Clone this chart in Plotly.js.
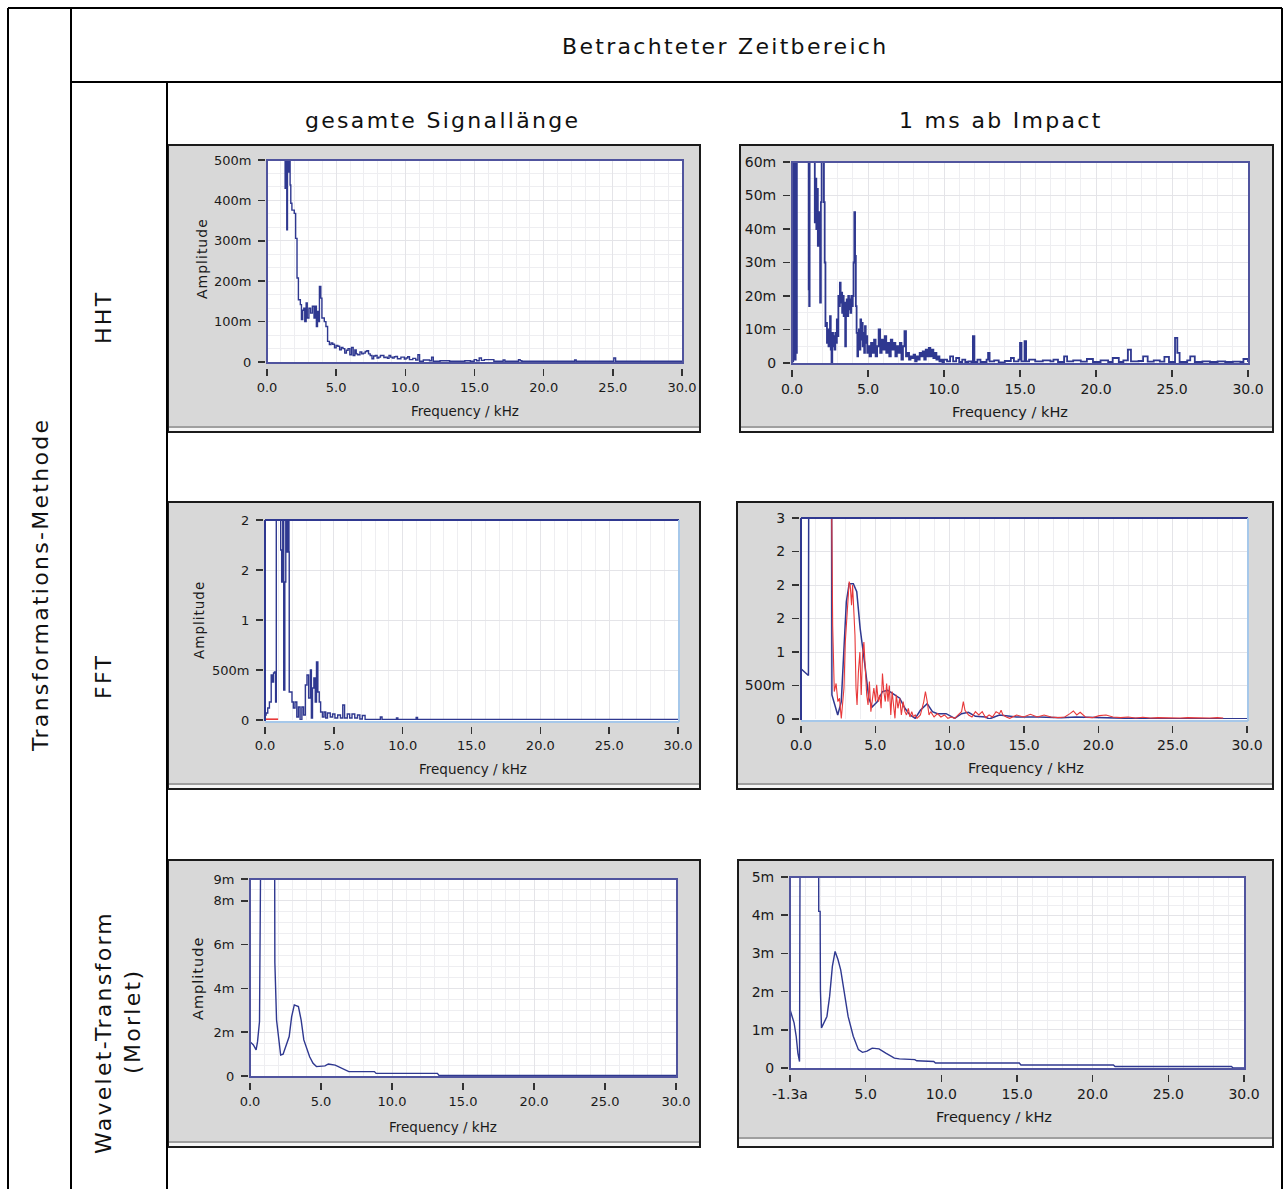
<!DOCTYPE html>
<html><head><meta charset="utf-8">
<script src="https://cdn.plot.ly/plotly-3.0.1.min.js"></script>
<style>html,body{margin:0;padding:0;background:#fff}#chart{width:1285px;height:1189px}</style>
</head><body><div id="chart"></div>
<script>
// ---------- DATA (frequency in kHz) ----------
const freqTickVals = [0, 5, 10, 15, 20, 25, 30];
const freqTickText = ["0.0", "5.0", "10.0", "15.0", "20.0", "25.0", "30.0"];
const freqTickTextWavImp = ["-1.3a", "5.0", "10.0", "15.0", "20.0", "25.0", "30.0"];

const hhtFullYVals = [0, 0.1, 0.2, 0.3, 0.4, 0.5];
const hhtFullYText = ["0", "100m", "200m", "300m", "400m", "500m"];
const hhtImpYVals = [0, 10, 20, 30, 40, 50, 60];
const hhtImpYText = ["0", "10m", "20m", "30m", "40m", "50m", "60m"];
const fftFullYVals = [0, 0.5, 1, 1.5, 2];
const fftFullYText = ["0", "500m", "1", "2", "2"];
const fftImpYVals = [0, 0.5, 1, 1.5, 2, 2.5, 3];
const fftImpYText = ["0", "500m", "1", "2", "2", "2", "3"];
const wavFullYVals = [0, 2, 4, 6, 8, 9];
const wavFullYText = ["0", "2m", "4m", "6m", "8m", "9m"];
const wavImpYVals = [0, 1, 2, 3, 4, 5];
const wavImpYText = ["0", "1m", "2m", "3m", "4m", "5m"];

// HHT, gesamte Signallänge (amplitude)
const hhtFullFreq = [
 1.20, 1.31, 1.36, 1.43, 1.48, 1.58, 1.63, 1.67, 1.72, 1.80,
 1.97, 2.07, 2.17, 2.27, 2.41, 2.49, 2.58, 2.66, 2.73, 2.83,
 2.91, 3.03, 3.15, 3.28, 3.40, 3.47, 3.57, 3.65, 3.72, 3.79,
 3.89, 3.97, 4.04, 4.14, 4.26, 4.38, 4.51, 4.63, 4.75, 4.88,
 5.00, 5.12, 5.25, 5.37, 5.49, 5.62, 5.74, 5.86, 5.99, 6.11,
 6.23, 6.35, 6.45, 6.55, 6.72, 6.85, 6.97, 7.10, 7.22, 7.34,
 7.46, 7.59, 7.71, 7.83, 7.96, 8.08, 8.20, 8.33, 8.45, 8.57,
 8.70, 8.82, 8.94, 9.06, 9.19, 9.31, 9.43, 9.56, 9.68, 9.80,
 9.93, 10.05, 10.17, 10.30, 10.54, 10.75, 10.91, 11.03, 11.30, 11.53,
 11.75, 11.90, 12.02, 12.51, 13.20, 13.74, 14.30, 14.70, 14.98, 15.15,
 15.34, 15.50, 15.71, 16.40, 17.07, 17.20, 18.18, 18.30, 18.42, 20.00,
 22.24, 22.35, 23.50, 25.07, 25.20, 27.00, 30.00];
const hhtFullAmp = [
 0.90, 0.43, 0.90, 0.327, 0.90, 0.47, 0.90, 0.438, 0.393, 0.376,
 0.368, 0.306, 0.208, 0.154, 0.142, 0.105, 0.128, 0.133, 0.100, 0.146,
 0.109, 0.133, 0.121, 0.138, 0.109, 0.138, 0.088, 0.125, 0.100, 0.187,
 0.158, 0.109, 0.109, 0.100, 0.088, 0.051, 0.043, 0.047, 0.044, 0.035,
 0.041, 0.039, 0.030, 0.036, 0.033, 0.022, 0.029, 0.033, 0.018, 0.036,
 0.016, 0.030, 0.020, 0.018, 0.025, 0.020, 0.022, 0.026, 0.028, 0.020,
 0.016, 0.008, 0.015, 0.016, 0.010, 0.012, 0.016, 0.016, 0.011, 0.012,
 0.009, 0.016, 0.012, 0.010, 0.013, 0.014, 0.008, 0.008, 0.012, 0.012,
 0.007, 0.010, 0.013, 0.006, 0.009, 0.005, 0.018, 0.002, 0.005, 0.005,
 0.003, 0.012, 0.002, 0.003, 0.002, 0.002, 0.003, 0.002, 0.006, 0.003,
 0.010, 0.004, 0.006, 0.002, 0.005, 0.002, 0.006, 0.003, 0.002, 0.002,
 0.005, 0.002, 0.002, 0.010, 0.002, 0.002, 0.002];

// HHT, 1 ms ab Impact (amplitude in milli-units)
const hhtImpFreq = [
 0.00, 0.04, 0.08, 0.12, 0.16, 0.20, 0.24, 0.28, 0.32, 1.08,
 1.10, 1.13, 1.16, 1.40, 1.50, 1.55, 1.60, 1.65, 1.70, 1.75,
 1.80, 1.85, 1.90, 1.95, 2.05, 2.10, 2.15, 2.20, 2.25, 2.30,
 2.35, 2.40, 2.45, 2.50, 2.55, 2.60, 2.65, 2.70, 2.75, 2.80,
 2.85, 2.90, 2.95, 3.00, 3.05, 3.10, 3.15, 3.20, 3.25, 3.30,
 3.35, 3.40, 3.45, 3.50, 3.55, 3.60, 3.65, 3.70, 3.75, 3.80,
 3.85, 3.90, 3.95, 4.00, 4.05, 4.10, 4.15, 4.20, 4.25, 4.30,
 4.35, 4.40, 4.45, 4.50, 4.55, 4.60, 4.65, 4.70, 4.75, 4.80,
 4.85, 4.90, 4.95, 5.00, 5.10, 5.20, 5.30, 5.40, 5.50, 5.60,
 5.70, 5.80, 5.90, 6.00, 6.10, 6.20, 6.30, 6.40, 6.50, 6.60,
 6.70, 6.80, 6.90, 7.00, 7.10, 7.20, 7.30, 7.40, 7.50, 7.60,
 7.70, 7.80, 7.90, 8.00, 8.10, 8.20, 8.30, 8.40, 8.50, 8.60,
 8.70, 8.80, 8.90, 9.00, 9.10, 9.20, 9.30, 9.40, 9.50, 9.60,
 9.70, 9.80, 9.90, 10.0, 10.2, 10.4, 10.6, 10.8, 11.0, 11.2,
 11.4, 11.6, 11.8, 11.9, 12.0, 12.2, 12.4, 12.8, 12.9, 13.0,
 13.3, 13.6, 14.0, 14.4, 14.6, 14.9, 15.0, 15.1, 15.3, 15.4,
 15.6, 16.0, 16.5, 17.0, 17.2, 17.5, 17.9, 18.1, 18.5, 19.0,
 19.4, 19.8, 20.3, 20.8, 21.1, 21.5, 21.8, 22.1, 22.3, 22.8,
 23.1, 23.4, 23.8, 24.2, 24.5, 24.8, 25.2, 25.35, 25.5, 26.0,
 26.2, 26.5, 27.0, 27.5, 28.0, 28.5, 29.0, 29.5, 29.7, 30.0];
const hhtImpAmp = [
 80, 0.5, 80, 6, 80, 1, 80, 3, 80, 80,
 22, 17, 80, 80, 42, 55, 40, 52, 35, 36,
 45, 18, 48, 80, 80, 48, 30, 11, 12, 6,
 10, 5, 8, 14, 4, 0, 9, 5, 8, 4,
 9, 6, 13, 8, 20, 17, 24, 18, 21, 15,
 20, 14, 18, 5, 16, 19, 14, 20, 16, 19,
 15, 20, 17, 20, 30, 45, 32, 17, 9, 2,
 6, 10, 4, 13, 7, 12, 5, 9, 3, 11,
 6, 8, 3, 5, 2, 6, 3, 7, 2, 5,
 10, 3, 7, 4, 8, 3, 6, 2, 7, 4,
 6, 2, 5, 3, 6, 1, 5, 9.5, 2, 3,
 1, 2, 1.5, 2.5, 0.5, 2, 1, 3, 2, 3.5,
 1, 4, 2, 4.5, 2, 4, 1.5, 3, 1, 2,
 0.5, 1, 0.3, 1, 0.5, 2, 0.5, 1.5, 0.3, 1,
 0.3, 0.5, 0.2, 8, 0.3, 1, 0.3, 1, 3, 0.5,
 0.8, 0.2, 0.6, 1.5, 0.5, 1, 6, 0.5, 6.5, 0.5,
 1, 0.5, 0.8, 0.5, 1, 0.3, 2, 0.5, 0.8, 0.4,
 1.2, 0.3, 0.8, 0.3, 1.5, 0.3, 0.8, 4, 0.5, 0.6,
 2, 0.4, 0.8, 0.4, 1.8, 0.3, 7.5, 3, 0.3, 0.8,
 2, 0.3, 0.5, 0.3, 0.5, 0.3, 0.4, 0.3, 1.2, 0.3];

// FFT, gesamte Signallänge
const fftFullFreq = [
 0.00, 0.08, 0.20, 0.32, 0.45, 0.52, 0.62, 0.69, 0.77, 0.82,
 1.07, 1.14, 1.21, 1.29, 1.36, 1.44, 1.51, 1.61, 1.69, 1.74,
 1.76, 1.86, 1.96, 2.06, 2.18, 2.31, 2.43, 2.55, 2.68, 2.80,
 2.93, 3.05, 3.17, 3.30, 3.37, 3.45, 3.55, 3.65, 3.74, 3.84,
 3.94, 4.04, 4.17, 4.29, 4.41, 4.54, 4.74, 4.91, 5.08, 5.28,
 5.48, 5.65, 5.78, 5.98, 6.15, 6.32, 6.52, 6.72, 6.89, 7.07,
 7.27, 8.38, 8.50, 9.55, 9.65, 10.98, 11.08, 30.0];
const fftFullAmp = [
 0.05, 0.07, 0.12, 0.18, 0.45, 0.38, 0.47, 0.48, 0.18, 2.5,
 2.5, 1.70, 1.38, 2.5, 0.30, 1.38, 2.5, 1.68, 2.5, 1.68,
 0.28, 0.28, 0.18, 0.12, 0.18, 0.03, 0.13, 0.00, 0.13, 0.05,
 0.35, 0.45, 0.22, 0.50, 0.02, 0.32, 0.42, 0.18, 0.58, 0.28,
 0.18, 0.08, 0.03, 0.08, 0.02, 0.07, 0.03, 0.06, 0.02, 0.05,
 0.02, 0.15, 0.02, 0.06, 0.02, 0.06, 0.02, 0.05, 0.01, 0.045,
 0.005, 0.03, 0.005, 0.02, 0.005, 0.025, 0.005, 0.005];
const fftFullRedFreq = [0.05, 0.35, 0.65, 0.95];
const fftFullRedAmp = [0.008, 0.008, 0.008, 0.008];

// FFT, 1 ms ab Impact
const fftImpFreq = [
 0.00, 0.50, 0.52, 2.06, 2.08, 2.47, 2.71, 3.05, 3.24, 3.52,
 3.75, 3.98, 4.33, 4.56, 4.79, 5.14, 5.48, 5.83, 6.18, 6.64,
 6.99, 7.33, 7.68, 8.03, 8.49, 8.84, 9.18, 9.76, 10.34, 10.80,
 11.26, 11.73, 12.42, 12.65, 13.35, 13.93, 14.50, 16.00, 17.50, 18.50,
 20.00, 22.00, 25.00, 30.00];
const fftImpAmp = [
 0.75, 0.65, 3.5, 3.5, 0.36, 0.06, 0.26, 1.75, 2.02, 2.02,
 1.90, 1.35, 0.75, 0.31, 0.18, 0.26, 0.41, 0.43, 0.38, 0.31,
 0.16, 0.06, 0.01, 0.13, 0.23, 0.11, 0.08, 0.08, 0.01, 0.08,
 0.10, 0.04, 0.03, 0.00, 0.06, 0.05, 0.03, 0.03, 0.02, 0.03,
 0.02, 0.01, 0.005, 0.005];
const fftImpRedFreq = [
 0.00, 0.03, 2.05, 2.13, 2.24, 2.36, 2.48, 2.59, 2.71, 2.89,
 2.98, 3.12, 3.24, 3.31, 3.40, 3.47, 3.54, 3.63, 3.70, 3.77,
 3.86, 3.96, 4.05, 4.14, 4.23, 4.33, 4.42, 4.51, 4.60, 4.70,
 4.79, 4.90, 5.02, 5.09, 5.20, 5.30, 5.39, 5.48, 5.57, 5.67,
 5.76, 5.85, 5.94, 6.04, 6.13, 6.22, 6.32, 6.41, 6.52, 6.64,
 6.75, 6.87, 6.99, 7.10, 7.22, 7.33, 7.45, 7.56, 7.68, 7.80,
 8.03, 8.26, 8.37, 8.49, 8.61, 8.72, 8.95, 9.18, 9.41, 9.65,
 9.88, 10.11, 10.34, 10.57, 10.80, 10.92, 11.03, 11.27, 11.50, 11.73,
 11.96, 12.19, 12.42, 12.65, 12.88, 13.12, 13.35, 13.46, 13.58, 13.81,
 14.04, 14.50, 14.97, 15.43, 15.89, 16.35, 16.82, 17.28, 17.74, 18.09,
 18.32, 18.55, 18.78, 19.13, 19.59, 20.06, 20.52, 20.98, 21.50, 22.00,
 22.50, 23.00, 23.50, 24.00, 24.50, 25.00, 25.50, 26.00, 26.50, 27.00,
 27.50, 28.00, 28.40];
const fftImpRedAmp = [
 2.20, 3.5, 3.5, 1.40, 0.41, 0.53, 0.26, 0.31, 0.01, 0.46,
 1.15, 1.75, 2.05, 2.00, 1.70, 2.00, 1.75, 1.25, 0.46, 0.21,
 0.70, 1.00, 0.36, 0.95, 1.15, 0.75, 0.36, 0.21, 0.56, 0.11,
 0.26, 0.46, 0.26, 0.51, 0.26, 0.36, 0.16, 0.68, 0.41, 0.26,
 0.53, 0.26, 0.50, 0.06, 0.41, 0.16, 0.01, 0.36, 0.16, 0.31,
 0.06, 0.26, 0.11, 0.06, 0.16, 0.03, 0.11, 0.03, 0.06, 0.01,
 0.06, 0.26, 0.41, 0.26, 0.06, 0.11, 0.03, 0.08, 0.03, 0.06,
 0.01, 0.03, 0.01, 0.06, 0.11, 0.26, 0.13, 0.06, 0.03, 0.11,
 0.06, 0.11, 0.02, 0.06, 0.03, 0.11, 0.08, 0.13, 0.06, 0.03,
 0.01, 0.06, 0.03, 0.07, 0.03, 0.06, 0.03, 0.02, 0.03, 0.08,
 0.12, 0.06, 0.10, 0.03, 0.02, 0.05, 0.06, 0.03, 0.02, 0.03,
 0.015, 0.025, 0.015, 0.02, 0.015, 0.02, 0.015, 0.02, 0.015, 0.02,
 0.015, 0.02, 0.015];

// Wavelet (Morlet), gesamte Signallänge (milli-units)
const wavFullFreq = [
 0.00, 0.24, 0.43, 0.53, 0.67, 0.77, 1.73, 1.75, 1.87, 1.99,
 2.16, 2.33, 2.52, 2.76, 2.93, 3.12, 3.41, 3.60, 3.79, 3.98,
 4.20, 4.44, 4.68, 5.28, 5.52, 6.00, 6.48, 6.96, 8.76, 8.88,
 13.20, 13.32, 30.00];
const wavFullAmp = [
 1.57, 1.42, 1.19, 1.57, 2.49, 12, 12, 5.2, 2.56, 1.95,
 0.96, 1.00, 1.34, 1.80, 2.70, 3.25, 3.17, 2.56, 1.65, 1.27,
 0.88, 0.58, 0.43, 0.46, 0.55, 0.50, 0.35, 0.20, 0.20, 0.12,
 0.12, 0.02, 0.02];

// Wavelet (Morlet), 1 ms ab Impact (milli-units)
const wavImpFreq = [
 0.00, 0.11, 0.27, 0.41, 0.52, 0.63, 0.68, 1.88, 1.90, 1.99,
 2.01, 2.08, 2.26, 2.44, 2.62, 2.80, 2.98, 3.17, 3.35, 3.57,
 3.84, 4.18, 4.52, 4.79, 5.09, 5.43, 5.88, 6.33, 6.90, 7.23,
 8.25, 8.37, 9.50, 9.61, 15.15, 15.26, 21.37, 21.48, 29.17, 29.28,
 30.00];
const wavImpAmp = [
 1.53, 1.40, 1.18, 0.83, 0.39, 0.17, 8, 8, 4.10, 4.10,
 2.05, 1.05, 1.18, 1.35, 1.88, 2.66, 3.05, 2.84, 2.57, 1.96,
 1.35, 0.83, 0.48, 0.41, 0.44, 0.52, 0.50, 0.39, 0.26, 0.24,
 0.22, 0.19, 0.17, 0.13, 0.13, 0.08, 0.08, 0.04, 0.04, 0.00,
 0.00];

// ---------- LAYOUT ----------
const W = 1285, H = 1189;
const fx = p => p / W, fy = p => 1 - p / H;
const FONT = 'DejaVu Sans';
const NAVY = '#2f3890', FRAME = '#50549e', LIGHT = '#a6c8ea', RED = '#e8393a';
const GRID = '#e4e4e8', GRID2 = '#eeeef1';

function steps(max, step) { const a = []; for (let v = 0; v <= max + 1e-9; v += step) a.push(+v.toFixed(6)); return a; }

const panels = [
  {box: [168, 145, 700, 432], plot: [267, 160, 682, 362], yr: [0, 0.5], yv: hhtFullYVals, yt: hhtFullYText, xt: freqTickText,
   ystep: 0.1 / 3, fs: 13, frame: 'full', amp: [202, 259, 14], ttl: [465, 411, 13.5],
   series: [{x: hhtFullFreq, y: hhtFullAmp, c: NAVY, w: 1.4, s: 'hv'}]},
  {box: [740, 145, 1273, 432], plot: [792, 162, 1248, 363], yr: [0, 60], yv: hhtImpYVals, yt: hhtImpYText, xt: freqTickText,
   ystep: 5, fs: 14, frame: 'full', amp: null, ttl: [1010, 412, 14.5],
   series: [{x: hhtImpFreq, y: hhtImpAmp, c: NAVY, w: 1.8, s: 'hv'}]},
  {box: [168, 502, 700, 789], plot: [265, 520, 678, 720], yr: [0, 2], yv: fftFullYVals, yt: fftFullYText, xt: freqTickText,
   ystep: 0.5, fs: 13, frame: 'split', amp: [199, 620, 13.5], ttl: [473, 769, 13.5],
   series: [{x: fftFullFreq, y: fftFullAmp, c: NAVY, w: 1.4, s: 'hv'}, {x: fftFullRedFreq, y: fftFullRedAmp, c: RED, w: 1.6, s: 'linear'}]},
  {box: [737, 502, 1273, 789], plot: [801, 518, 1247, 719], yr: [0, 3], yv: fftImpYVals, yt: fftImpYText, xt: freqTickText,
   ystep: 0.5, fs: 14, frame: 'split', amp: null, ttl: [1026, 768, 14.5],
   series: [{x: fftImpFreq, y: fftImpAmp, c: NAVY, w: 1.5, s: 'linear'}, {x: fftImpRedFreq, y: fftImpRedAmp, c: RED, w: 1.1, s: 'linear'}]},
  {box: [168, 860, 700, 1147], plot: [250, 879, 676, 1076], yr: [0, 9], yv: wavFullYVals, yt: wavFullYText, xt: freqTickText,
   ystep: 0.5, fs: 13, frame: 'full', amp: [198, 979, 14.5], ttl: [443, 1127, 13.5],
   series: [{x: wavFullFreq, y: wavFullAmp, c: NAVY, w: 1.4, s: 'linear'}]},
  {box: [738, 860, 1273, 1147], plot: [790, 877, 1244, 1068], yr: [0, 5], yv: wavImpYVals, yt: wavImpYText, xt: freqTickTextWavImp,
   ystep: 0.25, fs: 14, frame: 'full', amp: null, ttl: [994, 1117, 14.5], strip: 8,
   series: [{x: wavImpFreq, y: wavImpAmp, c: NAVY, w: 1.4, s: 'linear'}]}
];

const traces = [], shapes = [], annotations = [];
const layout = {width: W, height: H, margin: {l: 0, r: 0, t: 0, b: 0}, paper_bgcolor: '#ffffff', plot_bgcolor: '#ffffff',
  showlegend: false, font: {family: FONT, color: '#1a1a1a'}};

const line = (x0, y0, x1, y1, color, width, layer) => ({type: 'line', xref: 'paper', yref: 'paper',
  x0: fx(x0), y0: fy(y0), x1: fx(x1), y1: fy(y1), line: {color: color, width: width}, layer: layer || 'above'});

panels.forEach((p, i) => {
  const k = i + 1, xa = k === 1 ? 'x' : 'x' + k, ya = k === 1 ? 'y' : 'y' + k;
  const [L, T, R, B] = p.plot;
  const [bl, bt, br, bb] = p.box;
  // panel background
  shapes.push({type: 'rect', xref: 'paper', yref: 'paper', x0: fx(bl), x1: fx(br), y0: fy(bb), y1: fy(bt),
    fillcolor: '#d8d8d8', line: {color: '#1b1b1b', width: 2}, layer: 'below'});
  const st = p.strip || 4;
  shapes.push({type: 'rect', xref: 'paper', yref: 'paper', x0: fx(bl + 1), x1: fx(br - 1), y0: fy(bb - 1), y1: fy(bb - st),
    fillcolor: '#f6f6f6', line: {width: 0}, layer: 'below'});
  shapes.push(line(bl + 1, bb - st - 1, br - 1, bb - st - 1, '#8c8c8c', 1.5, 'below'));
  // white plotting area
  shapes.push({type: 'rect', xref: 'paper', yref: 'paper', x0: fx(L), x1: fx(R + 1), y0: fy(B + 1), y1: fy(T),
    fillcolor: '#ffffff', line: {width: 0}, layer: 'below'});

  layout['xaxis' + (k === 1 ? '' : k)] = {
    domain: [fx(L), fx(R)], range: [0, 30], anchor: 'free', position: fy(B + 6), fixedrange: true,
    tickmode: 'array', tickvals: freqTickVals, ticktext: p.xt, ticks: 'outside', ticklen: 7, tickwidth: 1.5, tickcolor: '#333',
    showline: false, zeroline: false, showgrid: true, gridcolor: GRID, gridwidth: 1,
    minor: {tickmode: 'array', tickvals: steps(30, 1), showgrid: true, gridcolor: GRID2, gridwidth: 1, ticks: ''},
    tickfont: {family: FONT, size: p.fs, color: '#1a1a1a'}
  };
  layout['yaxis' + (k === 1 ? '' : k)] = {
    domain: [fy(B), fy(T)], range: p.yr, anchor: 'free', position: fx(L - 2), fixedrange: true,
    tickmode: 'array', tickvals: p.yv, ticktext: p.yt, ticks: 'outside', ticklen: 7, tickwidth: 1.5, tickcolor: '#333',
    ticklabelstandoff: 4,
    showline: false, zeroline: false, showgrid: true, gridcolor: GRID, gridwidth: 1,
    minor: {tickmode: 'array', tickvals: steps(p.yr[1], p.ystep), showgrid: true, gridcolor: GRID2, gridwidth: 1, ticks: ''},
    tickfont: {family: FONT, size: p.fs, color: '#1a1a1a'}
  };

  p.series.forEach(s => traces.push({type: 'scatter', mode: 'lines', x: s.x, y: s.y, xaxis: xa, yaxis: ya,
    line: {color: s.c, width: s.w, shape: s.s}, hoverinfo: 'skip'}));

  // plot frame
  if (p.frame === 'full') {
    shapes.push({type: 'rect', xref: 'paper', yref: 'paper', x0: fx(L), x1: fx(R + 1), y0: fy(B + 1), y1: fy(T),
      line: {color: FRAME, width: 2}, fillcolor: 'rgba(0,0,0,0)', layer: 'above'});
  } else {
    shapes.push(line(L, T, R + 1, T, NAVY, 2));
    shapes.push(line(L, T, L, B + 1, NAVY, 2));
    shapes.push(line(R + 1, T, R + 1, B + 2, LIGHT, 2));
    shapes.push(line(L, B + 2, R + 1, B + 2, LIGHT, 2));
  }

  // axis titles
  annotations.push({xref: 'paper', yref: 'paper', x: fx(p.ttl[0]), y: fy(p.ttl[1]), xanchor: 'center', yanchor: 'middle',
    showarrow: false, text: 'Frequency / kHz', font: {family: FONT, size: p.ttl[2], color: '#1a1a1a'}});
  if (p.amp) annotations.push({xref: 'paper', yref: 'paper', x: fx(p.amp[0]), y: fy(p.amp[1]), xanchor: 'center', yanchor: 'middle',
    showarrow: false, textangle: -90, text: '<span style="letter-spacing:1px">Amplitude</span>', font: {family: FONT, size: p.amp[2], color: '#1a1a1a'}});
});

// table lines
[[8, 8, 1282, 8], [8, 8, 8, 1189], [71, 8, 71, 1189], [71, 82, 1282, 82], [167, 82, 167, 1189], [1282, 8, 1282, 1189]]
  .forEach(l => shapes.push(line(l[0], l[1], l[2], l[3], '#000', 2)));

// header texts
const hdr = (txt, x, y, angle) => annotations.push({xref: 'paper', yref: 'paper', x: fx(x), y: fy(y), xanchor: 'center', yanchor: 'middle',
  showarrow: false, textangle: angle || 0, text: '<span style="letter-spacing:2.3px">' + txt + '</span>',
  font: {family: FONT, size: 22, color: '#111'}});
hdr('Betrachteter Zeitbereich', 725, 47);
hdr('gesamte Signallänge', 442, 120);
hdr('1 ms ab Impact', 1001, 120);
hdr('Transformations-Methode', 40, 585, -90);
hdr('HHT', 103, 318, -90);
hdr('FFT', 103, 677, -90);
hdr('Wavelet-Transform', 103, 1033, -90);
hdr('(Morlet)', 132, 1022, -90);

layout.shapes = shapes;
layout.annotations = annotations;
Plotly.newPlot('chart', traces, layout, {staticPlot: true, displayModeBar: false});
</script></body></html>
